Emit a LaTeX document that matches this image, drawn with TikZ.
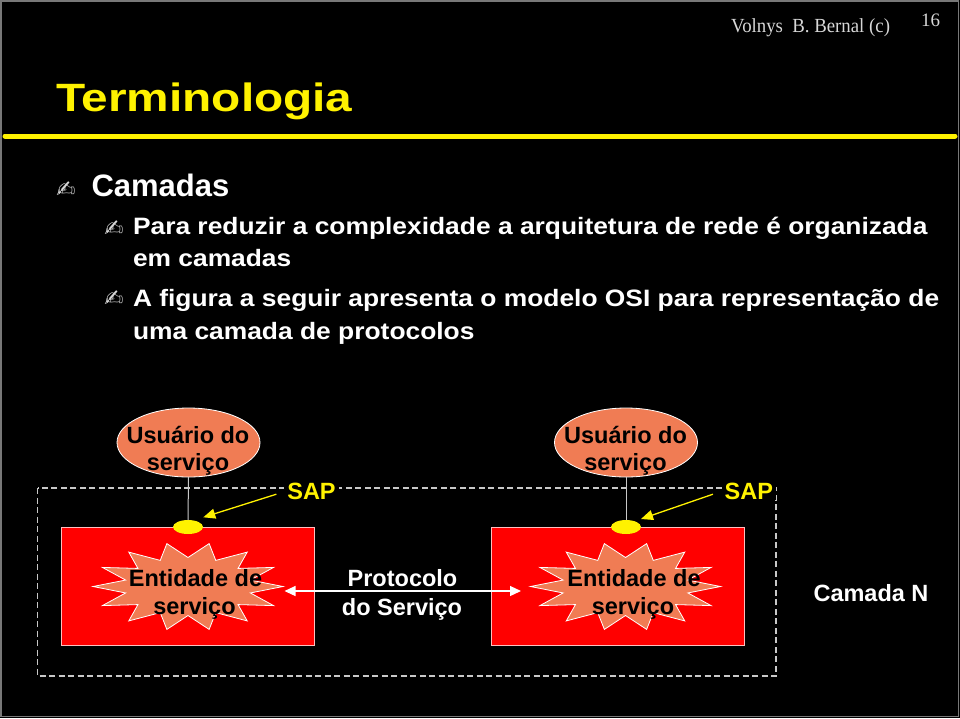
\documentclass[tikz,border=0pt]{standalone}
\usepackage{graphicx}
\usepackage{fontspec}
\setmainfont{Liberation Sans}
\newfontfamily\timesf{Liberation Serif}
\newfontfamily\dejavu{DejaVu Sans}
\usetikzlibrary{shapes.geometric,arrows.meta}
\definecolor{coral}{RGB}{240,124,84}
\definecolor{lgray}{RGB}{215,215,215}
\definecolor{dgray}{RGB}{200,200,200}
\definecolor{pinkline}{RGB}{255,190,190}
\definecolor{frame}{RGB}{120,120,120}
\newcommand{\wide}[1]{\scalebox{1.113}[1]{#1}}
\tikzset{
  body/.style={anchor=base west, text=white, font=\bfseries\fontsize{23.7}{28}\selectfont},
  bul/.style={text=lgray, font=\dejavu\fontsize{23}{26}\selectfont},
  dtext/.style={anchor=base, font=\bfseries\fontsize{23.5}{28}\selectfont},
  user/.style={ellipse, fill=coral, draw=white, line width=0.8, minimum width=143, minimum height=69},
  sapdot/.style={ellipse, fill=yellow, minimum width=30, minimum height=14},
  redbox/.style={rectangle, fill=red, draw=pinkline, line width=0.9, minimum width=252.6, minimum height=117.7},
  starst/.style={fill=coral, draw=white, line width=0.8, line join=miter},
  vline/.style={draw=dgray, line width=1},
  saplbl/.style={anchor=base, text=yellow, fill=black, inner xsep=3, font=\bfseries\fontsize{23.5}{28}\selectfont},
  saparrow/.style={draw=yellow, line width=1.3, -{Triangle[length=12,width=10]}},
  dblarrow/.style={draw=white, line width=1.2, {Triangle[length=11,width=10]}-{Triangle[length=11,width=10]}},
  dashrect/.style={draw=dgray, line width=1.6, dash pattern=on 6 off 3.5},
}
\begin{document}
\begin{tikzpicture}[x=1pt,y=-1pt, every node/.append style={inner sep=0pt, outer sep=0pt}]
\useasboundingbox (0,0) rectangle (960,718);
\fill[black] (0,0) rectangle (960,718);
\draw[frame, line width=1.5] (1,1) rectangle (958.5,716.5);
% header
\node[anchor=base east, text=lgray, font=\timesf\fontsize{20}{24}\selectfont] (hdr) at (890,32.5) {\scalebox{0.94}[1]{Volnys\ \ B. Bernal (c)}};
\node[anchor=base west, text=lgray, font=\timesf\fontsize{19}{24}\selectfont] (pg) at (921,26.5) {16};
\node[anchor=base west, text=yellow, font=\bfseries\fontsize{39.5}{44}\selectfont] (title) at (56,111.7) {\scalebox{1.21}[1]{Terminologia}};
\draw[yellow, line width=5, line cap=round] (5,136) -- (955,136);
% bullets
\node[bul] (b1) at (66,190) {✍};
\node[bul] (b2) at (114,229) {✍};
\node[bul] (b3) at (114,299) {✍};
\node[anchor=base west, text=white, font=\bfseries\fontsize{31}{36}\selectfont] (l1) at (91.5,196.5) {Camadas};
\node[body] (l2) at (133,234) {\wide{Para reduzir a complexidade a arquitetura de rede é organizada}};
\node[body] (l3) at (133,266.7) {\wide{em camadas}};
\node[body] (l4) at (133,306.5) {\wide{A figura a seguir apresenta o modelo OSI para representação de}};
\node[body] (l5) at (133,339.5) {\wide{uma camada de protocolos}};
% diagram
\draw[dashrect] (37.5,488) rectangle (776,676);
\node[saplbl] (s1) at (311.5,499.3) {SAP};
\node[saplbl] (s2) at (748.8,499.3) {SAP};
\node[user] (u1) at (188.5,442.5) {};
\node[user] (u2) at (626,442.5) {};
\node[dtext, text=black] (u1a) at (188,443.3) {Usuário do};
\node[dtext, text=black] (u1b) at (188,470.7) {serviço};
\node[dtext, text=black] (u2a) at (625.5,443.3) {Usuário do};
\node[dtext, text=black] (u2b) at (625.5,470.7) {serviço};
\node[redbox] (r1) at (188,586.2) {};
\node[redbox] (r2) at (618,586.2) {};
\node[sapdot] (y1) at (188,527) {};
\node[sapdot] (y2) at (626,527) {};
\draw[vline] (u1.south) -- (y1.north);
\draw[vline] (u2.south) -- (y2.north);
\draw[saparrow] ([shift={(-8,3)}]s1.west) -- ([shift={(15.3,-9.7)}]y1.center);
\draw[saparrow] ([shift={(-8.7,3)}]s2.west) -- ([shift={(15,-8)}]y2.center);
% starbursts
\draw[starst] plot[variable=\k, samples at={0,...,27}] ({188+(95-31*mod(\k,2))*cos(\k*360/28)}, {586.5+(44-15*mod(\k,2))*sin(\k*360/28)}) -- cycle;
\draw[starst] plot[variable=\k, samples at={0,...,27}] ({625.5+(95-31*mod(\k,2))*cos(\k*360/28)}, {586.5+(44-15*mod(\k,2))*sin(\k*360/28)}) -- cycle;
\node[dtext, text=black] (e1a) at (195.5,586) {Entidade de};
\node[dtext, text=black] (e1b) at (194.5,614) {serviço};
\node[dtext, text=black] (e2a) at (634,586) {Entidade de};
\node[dtext, text=black] (e2b) at (633,614) {serviço};
\coordinate (t1) at (284.5,591);
\coordinate (t2) at (521,591);
\draw[dblarrow] (t1) -- (t2);
\node[dtext, text=white] (p1) at (402.5,586.7) {Protocolo};
\node[dtext, text=white] (p2) at (402,615) {do Serviço};
\node[dtext, text=white] (cn) at (871,601.7) {Camada N};
\end{tikzpicture}
\end{document}
